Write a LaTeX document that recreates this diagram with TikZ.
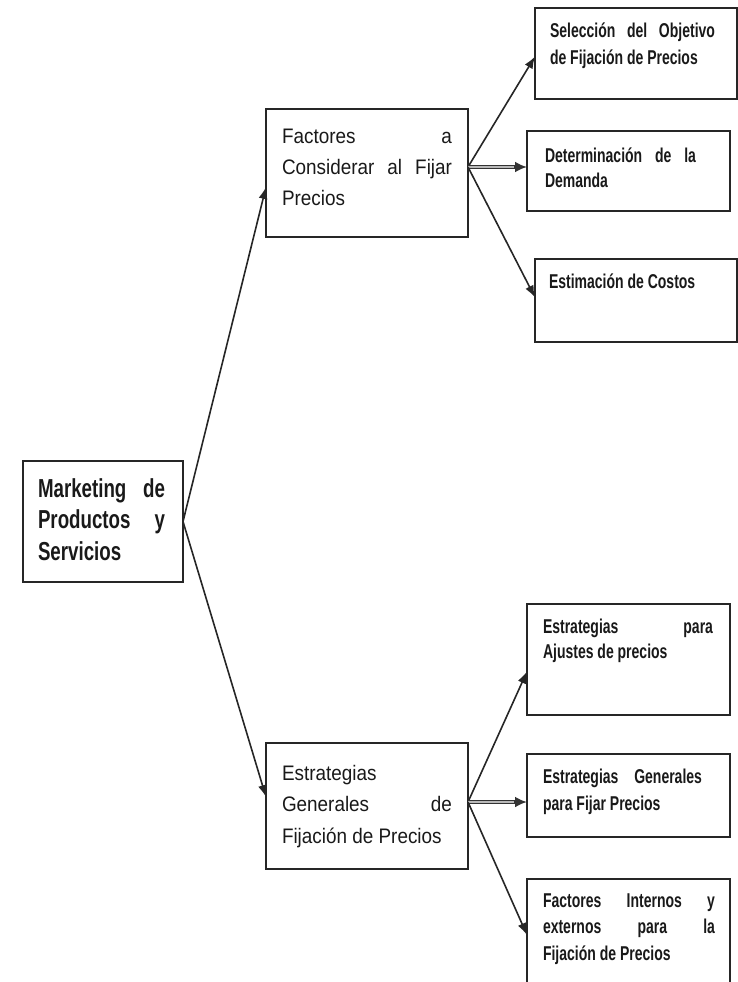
\documentclass[tikz,border=0pt]{standalone}
\usepackage{fontspec}
\setmainfont{Liberation Sans}
\newfontfamily\rootfont[FakeStretch=0.72]{Liberation Sans}
\newfontfamily\midfont[FakeStretch=0.9]{Liberation Sans}
\newfontfamily\leaffont[FakeStretch=0.7]{Liberation Sans}
\usetikzlibrary{arrows.meta}
\hbadness=10000
\vbadness=10000
\hyphenpenalty=10000

% Justified text block of a fixed box size:
% #1 width, #2 height, #3 left pad, #4 right pad, #5 first baseline, #6 font, #7 text
\newcommand\cajatexto[7]{\parbox[c][#2][t]{#1}{#6\leftskip=#3\rightskip=#4\relax\rule{0pt}{#5}#7}}

\tikzset{
  caja/.style={draw=black!85, line width=2pt, inner sep=0pt, outer sep=0pt,
    anchor=north west, text=black!90},
  flecha/.style={draw=black!85, line width=1.6pt, -{Latex[length=12pt,width=9pt]}},
  flechah/.style={draw=black!80, line width=3.6pt, -{Latex[length=12pt,width=11pt]}},
  centroh/.style={draw=gray!55, line width=1.4pt}
}

\begin{document}
\begin{tikzpicture}[x=1pt, y=-1pt]
\useasboundingbox (0,0) rectangle (738,982);
\clip (0,0) rectangle (738,982);

% root
\node[caja] (raiz) at (23,461)
  {\cajatexto{160pt}{121pt}{15pt}{18pt}{36pt}{\fontsize{26}{31.5}\rootfont\bfseries}%
   {Marketing de\linebreak Productos y\linebreak Servicios}};

% second level
\node[caja] (fac) at (266,109)
  {\cajatexto{202pt}{128pt}{16pt}{16pt}{34pt}{\fontsize{21}{31}\midfont}%
   {Factores a\linebreak Considerar al Fijar\linebreak Precios}};
\node[caja] (est) at (266,743)
  {\cajatexto{202pt}{126pt}{16pt}{16pt}{37pt}{\fontsize{21}{31.5}\midfont}%
   {Estrategias\linebreak Generales de\linebreak Fijación de Precios}};

% leaves of the upper branch
\node[caja] (t1) at (535,8)
  {\cajatexto{202pt}{91pt}{15pt}{22pt}{30pt}{\fontsize{20}{27}\leaffont\bfseries}%
   {Selección del Objetivo\linebreak de Fijación de Precios}};
\node[caja] (t2) at (527,131)
  {\cajatexto{203pt}{80pt}{18pt}{34pt}{31pt}{\fontsize{20}{25}\leaffont\bfseries}%
   {Determinación de la\linebreak Demanda}};
\node[caja] (t3) at (535,259)
  {\cajatexto{202pt}{83pt}{14pt}{20pt}{29pt}{\fontsize{20}{26}\leaffont\bfseries}%
   {Estimación de Costos}};

% leaves of the lower branch
\node[caja] (b1) at (527,604)
  {\cajatexto{203pt}{111pt}{16pt}{17pt}{29pt}{\fontsize{20}{25}\leaffont\bfseries}%
   {Estrategias para\linebreak Ajustes de precios}};
\node[caja] (b2) at (527,754)
  {\cajatexto{203pt}{83pt}{16pt}{28pt}{29pt}{\fontsize{20}{27}\leaffont\bfseries}%
   {Estrategias Generales\linebreak para Fijar Precios}};
\node[caja] (b3) at (527,879)
  {\cajatexto{203pt}{131pt}{16pt}{15pt}{28pt}{\fontsize{20}{26.5}\leaffont\bfseries}%
   {Factores Internos y\linebreak externos para la\linebreak Fijación de Precios}};

% connectors from the root
\draw[flecha] (raiz.east) -- ([yshift=-14pt]fac.west);
\draw[flecha] (raiz.east) -- ([yshift=9pt]est.west);

% upper fan
\coordinate (fs) at ([yshift=6pt]fac.east);
\draw[flecha] (fs) -- ([yshift=-3pt]t1.west);
\draw[flechah] (fs) -- (t2.west |- fs);
\draw[centroh, shorten >=13pt] (fs) -- (t2.west |- fs);
\draw[flecha] (fs) -- ([yshift=3pt]t3.west);

% lower fan
\coordinate (es) at ([yshift=4pt]est.east);
\draw[flecha] (es) -- ([yshift=-12pt]b1.west);
\draw[flechah] (es) -- (b2.west |- es);
\draw[centroh, shorten >=13pt] (es) -- (b2.west |- es);
\draw[flecha] (es) -- ([yshift=9.5pt]b3.west);
\end{tikzpicture}
\end{document}
